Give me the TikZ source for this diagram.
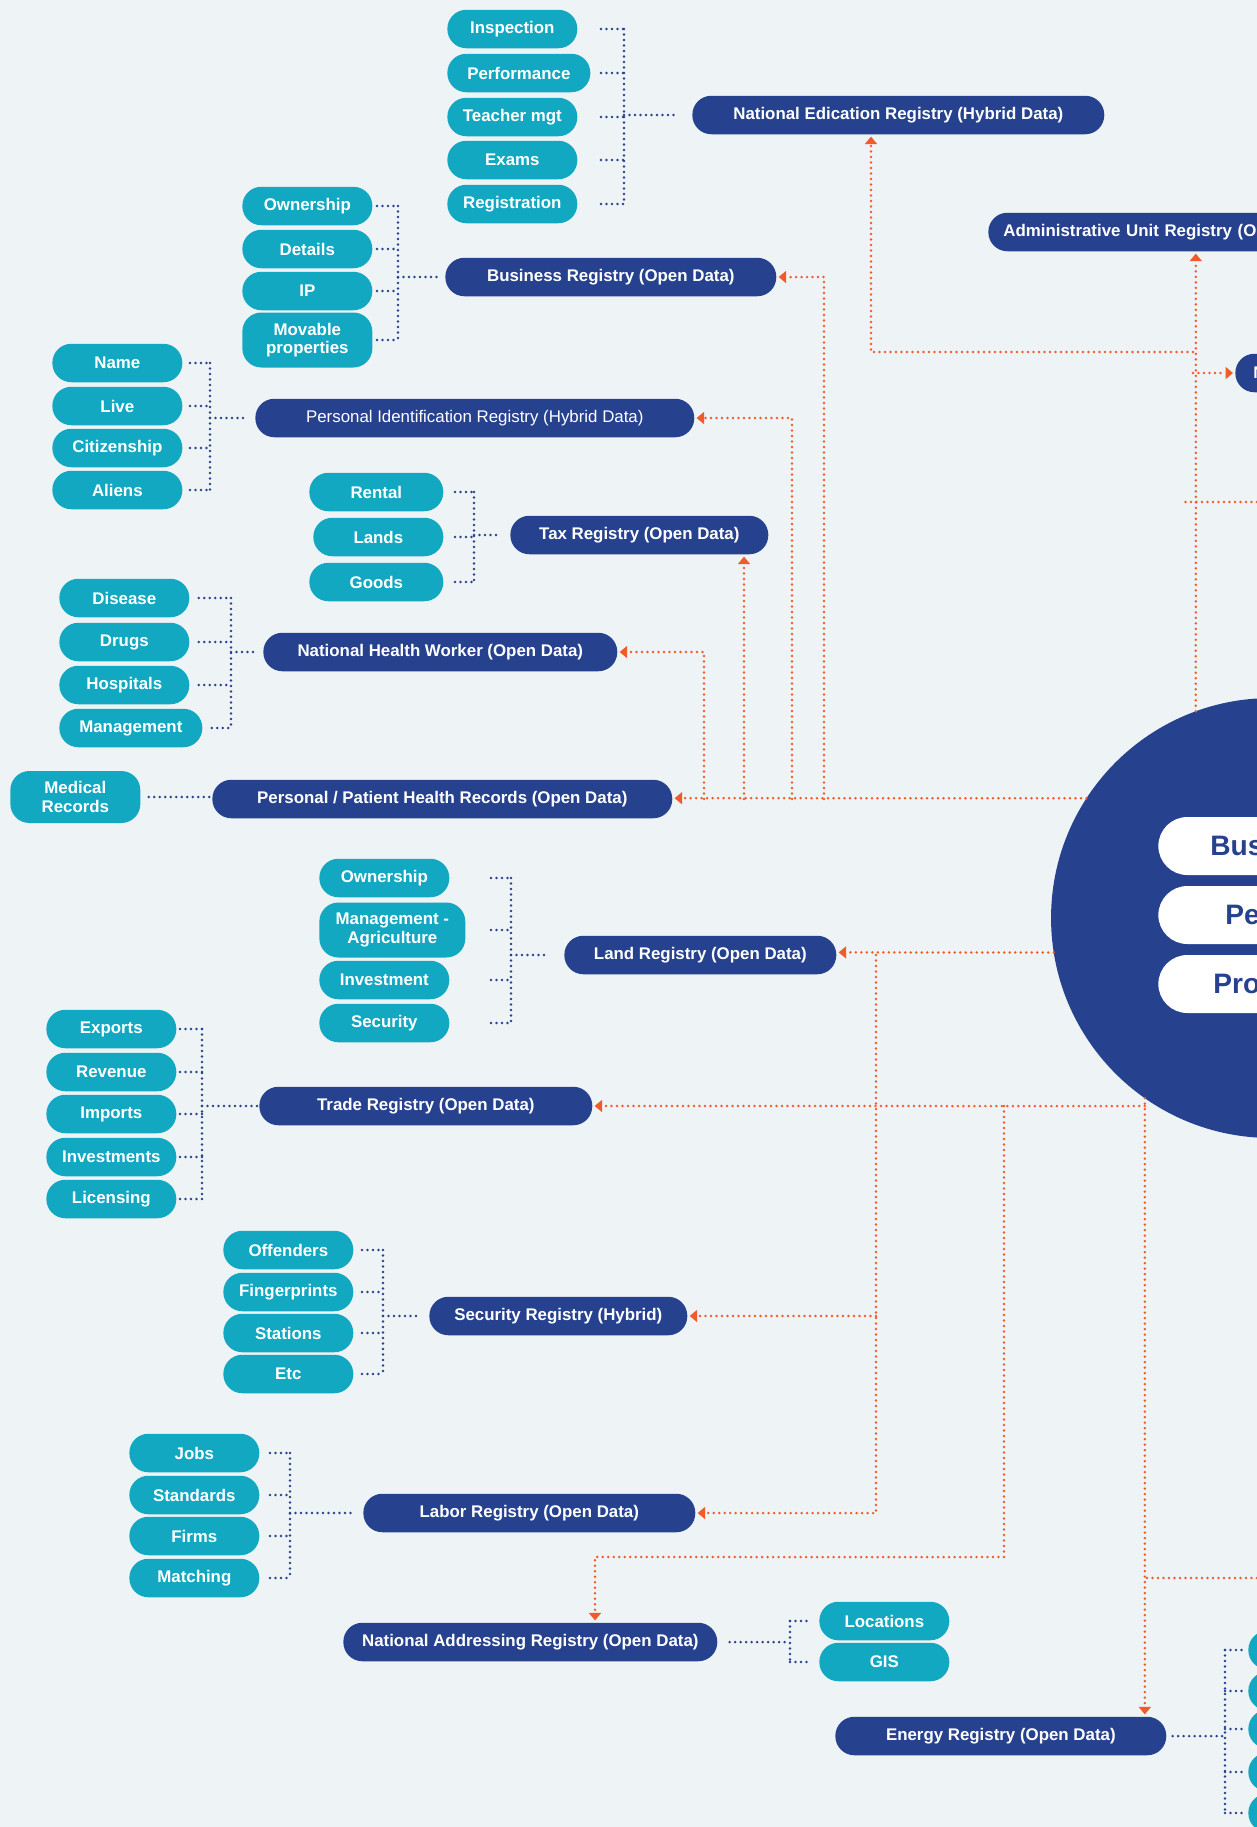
\documentclass[tikz,border=0pt]{standalone}
\usepackage{fontspec}
\setmainfont{Liberation Sans}
\usetikzlibrary{positioning}
\usetikzlibrary{arrows.meta}

\definecolor{navy}{HTML}{26418E}
\definecolor{tealc}{HTML}{12A8C1}
\definecolor{orng}{HTML}{F15A29}
\definecolor{paper}{HTML}{EEF3F6}

\tikzset{
  reg/.style={fill=navy, text=white, font=\bfseries\fontsize{9.6}{10.5}\selectfont,
    rounded corners=0.38cm, minimum height=0.77cm, inner sep=0pt, align=center, anchor=west},
  kid/.style={fill=tealc, text=white, font=\bfseries\fontsize{9.6}{10.5}\selectfont,
    rounded corners=0.38cm, minimum height=0.77cm, minimum width=2.6cm, inner sep=0pt,
    align=center, anchor=west},
  core/.style={fill=white, text=navy, font=\bfseries\fontsize{16}{18}\selectfont,
    rounded corners=0.58cm, minimum height=1.16cm, text width=5cm, align=left,
    inner ysep=0pt, anchor=west},
  bdot/.style={navy, line width=0.055cm, line cap=round, dash pattern=on 0pt off 0.11cm},
  odot/.style={orng, line width=0.055cm, line cap=round, dash pattern=on 0pt off 0.11cm},
  oarr/.style={odot, -{Triangle[length=0.15cm, width=0.24cm]}, shorten >=0.04cm},
}

\begin{document}
\begin{tikzpicture}[x=0.02cm, y=-0.02cm]

  \useasboundingbox (0,0) rectangle (1257,1827);
  \fill[paper] (0,0) rectangle (1257,1827);
  \clip (0,0) rectangle (1257,1827);

  % hub
  \node[circle, fill=navy, minimum size=8.8cm, inner sep=0pt, outer sep=0pt] (hub) at (1271,918) {};
  \node[core, inner xsep=1.04cm] (cBus) at (1158,846) {Bus};
  \node[core, inner xsep=1.34cm] (cPe) at (1158,915) {Pe};
  \node[core, inner xsep=1.10cm] (cPro) at (1158,984) {Pro};

  % registries
  \node[reg, minimum width=8.24cm] (edu) at (692,115) {National Edication Registry (Hybrid Data)};
  \node[reg, minimum width=6.62cm] (bus) at (445,277) {Business Registry (Open Data)};
  \node[reg, minimum width=8.78cm, font=\fontsize{9.6}{10.5}\selectfont] (pid) at (255,418) {Personal Identification Registry (Hybrid Data)};
  \node[reg, minimum width=5.16cm] (tax) at (510,535) {Tax Registry (Open Data)};
  \node[reg, minimum width=7.08cm] (hw) at (263,652) {National Health Worker (Open Data)};
  \node[reg, minimum width=9.2cm] (phr) at (212,799) {Personal / Patient Health Records (Open Data)};
  \node[reg, text width=8cm, align=left, inner xsep=0.3cm] (adm) at (988,232) {Administrative Unit Registry (Op};
  \node[reg, text width=4cm, align=left, inner xsep=0.36cm] (nX) at (1235,373) {N};
  \node[reg, minimum width=5.44cm] (land) at (564,955) {Land Registry (Open Data)};
  \node[reg, minimum width=6.66cm] (trade) at (259,1106) {Trade Registry (Open Data)};
  \node[reg, minimum width=5.16cm] (sec) at (429,1316) {Security Registry (Hybrid)};
  \node[reg, minimum width=6.64cm] (labor) at (363,1513) {Labor Registry (Open Data)};
  \node[reg, minimum width=7.48cm] (addr) at (343,1642) {National Addressing Registry (Open Data)};
  \node[reg, minimum width=6.62cm] (energy) at (835,1736) {Energy Registry (Open Data)};

  % education items
  \node[kid] (insp) at (447,29) {Inspection};
  \node[kid, minimum width=2.86cm] (perf) at (447,73) {Performance};
  \node[kid] (teach) at (447,117) {Teacher mgt};
  \node[kid] (exam) at (447,160) {Exams};
  \node[kid] (regi) at (447,204) {Registration};

  % business items
  \node[kid] (bown) at (242,206) {Ownership};
  \node[kid] (bdet) at (242,249) {Details};
  \node[kid] (bip) at (242,291) {IP};
  \node[kid, minimum height=1.1cm] (bmov) at (242,340) {Movable\\properties};

  % identification items
  \node[kid] (name) at (52,363) {Name};
  \node[kid] (live) at (52,406) {Live};
  \node[kid] (citz) at (52,448) {Citizenship};
  \node[kid] (alien) at (52,490) {Aliens};

  % tax items
  \node[kid, minimum width=2.68cm] (rent) at (309,492) {Rental};
  \node[kid] (lands) at (313,537) {Lands};
  \node[kid, minimum width=2.68cm] (goods) at (309,582) {Goods};

  % health items
  \node[kid] (dis) at (59,598) {Disease};
  \node[kid] (drug) at (59,642) {Drugs};
  \node[kid] (hosp) at (59,685) {Hospitals};
  \node[kid, minimum width=2.86cm] (mgmt) at (59,728) {Management};
  \node[kid, minimum height=1.04cm] (med) at (10,797) {Medical\\Records};

  % land items
  \node[kid] (lown) at (319,878) {Ownership};
  \node[kid, minimum width=2.92cm, minimum height=1.1cm] (lmgt) at (319,930) {Management -\\Agriculture};
  \node[kid] (linv) at (319,980) {Investment};
  \node[kid] (lsec) at (319,1023) {Security};

  % trade items
  \node[kid] (exp) at (46,1029) {Exports};
  \node[kid] (rev) at (46,1072) {Revenue};
  \node[kid] (imp) at (46,1114) {Imports};
  \node[kid] (invs) at (46,1157) {Investments};
  \node[kid] (lic) at (46,1199) {Licensing};

  % security items
  \node[kid] (off) at (223,1250) {Offenders};
  \node[kid] (fing) at (223,1292) {Fingerprints};
  \node[kid] (stat) at (223,1333) {Stations};
  \node[kid] (etcx) at (223,1374) {Etc};

  % labor items
  \node[kid] (jobs) at (129,1453) {Jobs};
  \node[kid] (std) at (129,1495) {Standards};
  \node[kid] (firm) at (129,1536) {Firms};
  \node[kid] (mtch) at (129,1578) {Matching};

  % addressing and energy items
  \node[kid] (loc) at (819,1621) {Locations};
  \node[kid] (gis) at (819,1662) {GIS};
  \foreach \i/\yy in {1/1650,2/1691,3/1729,4/1772,5/1813}
    \node[kid] (en\i) at (1248,\yy) {};

  % brackets
  \coordinate (eduS) at (624,115);
  \foreach \c in {insp,perf,teach,exam,regi}
    \draw[bdot] (\c.east -| eduS) ++(-23,0) -- (\c.east -| eduS);
  \draw[bdot] (insp.east -| eduS) -- (regi.east -| eduS);
  \draw[bdot, shorten >=0.3cm] (eduS) -- (edu.west);

  \coordinate (busS) at (398,277);
  \foreach \c in {bown,bdet,bip,bmov}
    \draw[bdot] (\c.east -| busS) ++(-21,0) -- (\c.east -| busS);
  \draw[bdot] (bown.east -| busS) -- (bmov.east -| busS);
  \draw[bdot, shorten >=0.16cm] (busS) -- (bus.west);

  \coordinate (pidS) at (210,418);
  \foreach \c in {name,live,citz,alien}
    \draw[bdot] (\c.east -| pidS) ++(-20,0) -- (\c.east -| pidS);
  \draw[bdot] (name.east -| pidS) -- (alien.east -| pidS);
  \draw[bdot, shorten >=0.16cm] (pidS) -- (pid.west);

  \coordinate (taxS) at (474,535);
  \foreach \c in {rent,lands,goods}
    \draw[bdot] (\c.east -| taxS) ++(-19,0) -- (\c.east -| taxS);
  \draw[bdot] (rent.east -| taxS) -- (goods.east -| taxS);
  \draw[bdot, shorten >=0.26cm] (taxS) -- (tax.west);

  \coordinate (hwS) at (231,652);
  \foreach \c in {dis,drug,hosp,mgmt}
    \draw[bdot, shorten <=0.18cm] (\c.east) -- (\c.east -| hwS);
  \draw[bdot] (dis.east -| hwS) -- (mgmt.east -| hwS);
  \draw[bdot, shorten >=0.1cm] (hwS) -- (hw.west);

  \draw[bdot, shorten <=0.16cm, shorten >=0.04cm] (med.east) -- (med.east -| phr.west);

  \coordinate (landS) at (511,955);
  \foreach \c in {lown,lmgt,linv,lsec}
    \draw[bdot] (\c.east -| landS) ++(-20,0) -- (\c.east -| landS);
  \draw[bdot] (lown.east -| landS) -- (lsec.east -| landS);
  \draw[bdot, shorten >=0.36cm] (landS) -- (land.west);

  \coordinate (tradeS) at (202,1106);
  \foreach \c in {exp,rev,imp,invs,lic}
    \draw[bdot] (\c.east -| tradeS) ++(-22,0) -- (\c.east -| tradeS);
  \draw[bdot] (exp.east -| tradeS) -- (lic.east -| tradeS);
  \draw[bdot, shorten >=0.04cm] (tradeS) -- (trade.west);

  \coordinate (secS) at (383,1316);
  \foreach \c in {off,fing,stat,etcx}
    \draw[bdot] (\c.east -| secS) ++(-21,0) -- (\c.east -| secS);
  \draw[bdot] (off.east -| secS) -- (etcx.east -| secS);
  \draw[bdot, shorten >=0.24cm] (secS) -- (sec.west);

  \coordinate (laborS) at (290,1513);
  \foreach \c in {jobs,std,firm,mtch}
    \draw[bdot] (\c.east -| laborS) ++(-20,0) -- (\c.east -| laborS);
  \draw[bdot] (jobs.east -| laborS) -- (mtch.east -| laborS);
  \draw[bdot, shorten >=0.24cm] (laborS) -- (labor.west);

  \coordinate (addrS) at (790,1642);
  \draw[bdot, shorten <=0.24cm] (addr.east) -- (addrS);
  \draw[bdot] (loc.west -| addrS) -- (gis.west -| addrS);
  \foreach \c in {loc,gis}
    \draw[bdot] (\c.west -| addrS) -- ++(21,0);

  \coordinate (enS) at (1225,1736);
  \draw[bdot, shorten <=0.12cm] (energy.east) -- (enS);
  \draw[bdot] (en1.west -| enS) -- (en5.west -| enS);
  \foreach \i in {1,...,5}
    \draw[bdot] (en\i.west -| enS) -- ++(18,0);

  % links from the hub, upper left
  \draw[oarr] (hub.147.3) -- (hub.147.3 -| phr.east);
  \coordinate (vA) at (704,799);
  \coordinate (vB) at (744,799);
  \coordinate (vC) at (792,799);
  \coordinate (vD) at (824,799);
  \draw[oarr] (vA) |- (hw.east);
  \draw[oarr] (vB) -- (vB |- tax.south);
  \draw[oarr] (vC) |- (pid.east);
  \draw[oarr] (vD) |- (bus.east);

  % links from the hub, top
  \draw[oarr] (hub.110.7) -- (hub.110.7 |- adm.south);
  \coordinate (vR) at (1193,352);
  \coordinate (vE) at (871,352);
  \draw[oarr] (vR) -- (vE) -- (vE |- edu.south);
  \draw[oarr] (nX.west -| vR) -- (nX.west);
  \coordinate (rOutA) at (1257,502);
  \draw[odot] (rOutA) -- ++(-72,0);

  % links from the hub, lower left
  \draw[oarr] (hub.189.7) -- (hub.189.7 -| land.east);
  \coordinate (vF) at (876,955);
  \draw[oarr] (vF) |- (labor.east);
  \draw[oarr] (vF |- sec.east) -- (sec.east);

  \draw[oarr] (hub.235.4) -- (hub.235.4 |- energy.north);
  \draw[oarr] (hub.235.4 |- trade.east) -- (trade.east);
  \coordinate (vH) at (1004,1557);
  \coordinate (vI) at (595,1557);
  \draw[oarr] (vH |- trade.east) -- (vH) -- (vI) -- (vI |- addr.north);
  \coordinate (rOutB) at (1257,1578);
  \draw[odot] (rOutB) -- (rOutB -| hub.235.4);

\end{tikzpicture}
\end{document}
